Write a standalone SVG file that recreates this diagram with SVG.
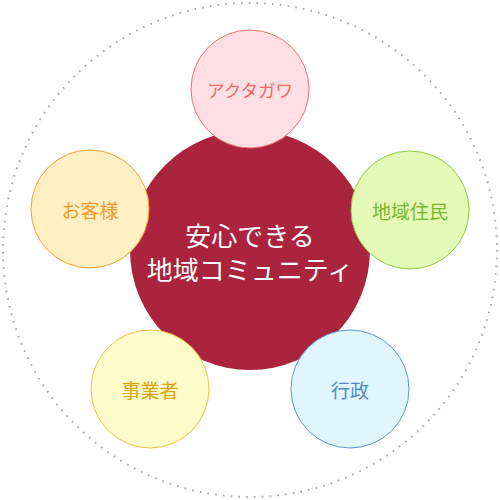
<svg xmlns="http://www.w3.org/2000/svg" width="500" height="500" viewBox="0 0 500 500">
<style>
text{font-family:"Noto Sans CJK JP","Noto Sans",sans-serif;text-anchor:middle;dominant-baseline:central}
.sat text{font-size:19px;font-weight:normal}
.sat circle{stroke-width:1}
</style>
<rect width="500" height="500" fill="#ffffff"/>
<circle cx="250" cy="250" r="247" fill="none" stroke="#a8a8a8" stroke-width="2" stroke-dasharray="1.6 6.2"/>
<g id="center">
<circle cx="250" cy="250" r="120" fill="#a9243c"/>
<text x="250" y="234" font-size="26" fill="#ffffff">安心できる</text>
<text x="250" y="268" font-size="26" fill="#ffffff">地域コミュニティ</text>
</g>
<g id="connectors"></g>
<g id="akutagawa" class="sat">
<circle cx="250" cy="89" r="59" fill="#ffdfe3" stroke="#f07272"/>
<text x="250" y="89" fill="#f06a6a" style="font-size:17.5px">アクタガワ</text>
</g>
<g id="jumin" class="sat">
<circle cx="410" cy="210" r="59" fill="#e4fbb7" stroke="#8fcc44"/>
<text x="410" y="210" fill="#79b62e">地域住民</text>
</g>
<g id="okyaku" class="sat">
<circle cx="90" cy="209" r="59" fill="#ffefc2" stroke="#f5a233"/>
<text x="90" y="209" fill="#f39a2e">お客様</text>
</g>
<g id="jigyosha" class="sat">
<circle cx="150" cy="389" r="59" fill="#fffccb" stroke="#e8c445"/>
<text x="150" y="389" fill="#d9a404">事業者</text>
</g>
<g id="gyosei" class="sat">
<circle cx="350" cy="389" r="59" fill="#dff6fd" stroke="#5e96d0"/>
<text x="350" y="389" fill="#4f88c2">行政</text>
</g>
</svg>
